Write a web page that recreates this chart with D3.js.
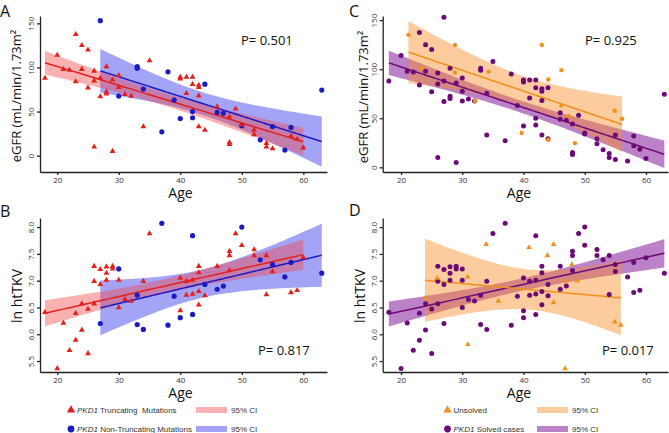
<!DOCTYPE html>
<html>
<head>
<meta charset="utf-8">
<script src="https://cdn.jsdelivr.net/npm/d3@7"></script>
<style>
body { margin: 0; background: #fff; }
svg { display: block; font-family: "Open Sans", sans-serif; }
.axis path, .axis line { stroke: #222; stroke-width: 1.3; }
.axis text { font-size: 8px; fill: #333; font-family: "Open Sans", sans-serif; }
.legend text { font-family: "Liberation Sans", Arial, sans-serif; font-size: 8px; fill: #333; white-space: pre; }
</style>
</head>
<body>
<svg width="669" height="433"></svg>
<script>
// PKD1 truncating mutations (red triangles)
var truncAge = [18,20,21,22,23,23,24,24,25,25,26,26,26,27,27,28,28,28,29,29,30,30,31,32,34,35,
                40,40,41,41,42,42,43,43,43,43,44,46,48,48,48,49,50,52,52,54,54,55,58,59,60];
var truncEgfr = [88,114,98,97,137.5,84,125,98,120,77,96,85,10,88,67,101,72.5,70,86,5,91,77.5,69.5,67.6,33,107.7,
                 89,87,89,70.6,89,81,80,77.5,68,33,29,55.5,44,15,13,53,35,29,24,14,10,8,22,18.5,9];
var truncTkv = [6.41,5.36,6.21,5.70,5.89,6.39,6.08,6.57,5.64,6.47,6.57,6.99,7.27,7.21,6.93,7.26,7.14,7.01,7.27,7.22,
                7.01,6.50,6.65,6.62,6.99,7.88,7.05,6.44,6.99,6.73,7.01,6.75,7.27,7.15,6.80,6.55,6.72,7.27,7.19,7.55,
                7.47,7.88,7.66,7.58,7.47,7.47,6.74,7.17,6.78,6.82,7.43];

// PKD1 non-truncating mutations (blue circles)
var nonTruncAge = [27,30,33,33,34,37,38,39,40,42,42,44,46,47,50,53,55,57,58,63];
var nonTruncEgfr = [153,67.6,101,99,75.5,27,95,63,42,50,43,81,49,48,34,18,33,6.4,32,74.4];
var nonTruncTkv = [6.20,7.22,6.73,6.18,6.09,8.07,6.17,6.71,6.31,7.84,6.37,6.93,6.84,6.90,8.0,7.39,7.30,7.07,7.34,7.14];

// unsolved cases (orange)
var unsolvedAgeC = [21.2,23.4,28.8,28.8,32.1,34.3,39.7,43,44.05,44.05,46.2,46.2,47.4,48.4,54.9,56.1];
var unsolvedEgfr = [135,101.5,124.7,96.5,67.5,97.4,35,124.7,89.5,28,99,63,52,24.6,57.7,49.5];
var unsolvedAgeD = [23.9,25.9,30.9,30.9,33.9,35.9,40.9,43.9,44.9,44.9,46.8,46.9,47.9,48.8,54.9,55.9];
var unsolvedTkv = [6.67,7.05,7.07,5.81,7.68,6.62,7.62,7.47,7.68,6.59,5.36,6.99,7.30,7.0,6.23,6.17];

var ageTicks = [20,30,40,50,60];
var egfrTicks = [0,50,100,150];
var tkvTicks = [5.5,6,6.5,7,7.5,8];

// solved = truncating + non-truncating
var solvedAge = truncAge.concat(nonTruncAge);
var solvedEgfr = truncEgfr.concat(nonTruncEgfr);
var solvedTkv = truncTkv.concat(nonTruncTkv);

var RED = "#e3201c", BLUE = "#1b1bc4", ORANGE = "#f39019", PURPLE = "#6c0a78";
var RED_BAND = "rgba(240,70,70,0.42)", BLUE_BAND = "rgba(90,90,240,0.55)";
var ORANGE_BAND = "rgba(248,140,40,0.45)", PURPLE_BAND = "rgba(140,40,160,0.58)";

var svg = d3.select("svg");

// t quantile (0.975) via Cornish-Fisher expansion
function tq(df) {
  var z = 1.959964;
  var g1 = (Math.pow(z,3) + z) / 4;
  var g2 = (5*Math.pow(z,5) + 16*Math.pow(z,3) + 3*z) / 96;
  var g3 = (3*Math.pow(z,7) + 19*Math.pow(z,5) + 17*Math.pow(z,3) - 15*z) / 384;
  return z + g1/df + g2/(df*df) + g3/(df*df*df);
}

// least squares line + 95% CI of the mean
function fit(xs, ys) {
  var n = xs.length, mx = d3.mean(xs), my = d3.mean(ys);
  var sxx = d3.sum(xs, x => (x - mx) * (x - mx));
  var sxy = d3.sum(xs, (x, i) => (x - mx) * (ys[i] - my));
  var b = sxy / sxx, a = my - b * mx;
  var sse = d3.sum(xs, (x, i) => { var r = ys[i] - a - b * x; return r * r; });
  var s = Math.sqrt(sse / (n - 2)), t = tq(n - 2);
  var lo = d3.min(xs), hi = d3.max(xs);
  return d3.range(0, 81).map(k => {
    var x = lo + (hi - lo) * k / 80, yh = a + b * x;
    var se = s * Math.sqrt(1 / n + (x - mx) * (x - mx) / sxx);
    return {x: x, y: yh, lo: yh - t * se, hi: yh + t * se};
  });
}

function panel(p) {
  var x = d3.scaleLinear().domain(p.xDom).range([p.left, p.right]);
  var y = d3.scaleLinear().domain(p.yDom).range([p.bottom, p.top]);
  var g = svg.append("g");

  svg.append("clipPath").attr("id", "clip" + p.name)
    .append("rect")
      .attr("x", p.left).attr("y", p.top)
      .attr("width", p.right - p.left).attr("height", p.bottom - p.top);
  var plot = g.append("g").attr("clip-path", "url(#clip" + p.name + ")");

  var fits = p.groups.map(s => fit(s.ages, s.vals));

  p.groups.forEach((s, i) => {
    plot.append("path").datum(fits[i])
      .attr("fill", s.band)
      .attr("d", d3.area().x(d => x(d.x)).y0(d => y(d.lo)).y1(d => y(d.hi)));
  });
  p.groups.forEach((s, i) => {
    plot.append("path").datum(fits[i])
      .attr("fill", "none").attr("stroke", s.color).attr("stroke-width", 1.5)
      .attr("d", d3.line().x(d => x(d.x)).y(d => y(d.y)));
  });
  p.groups.forEach(s => {
    var pts = s.ages.map((a, j) => [a, s.vals[j]]);
    if (s.shape === "tri") {
      g.selectAll(null).data(pts).enter().append("path")
        .attr("transform", d => "translate(" + x(d[0]) + "," + y(d[1]) + ")")
        .attr("d", d3.symbol().type(d3.symbolTriangle).size(s.size))
        .attr("fill", s.color);
    } else {
      g.selectAll(null).data(pts).enter().append("circle")
        .attr("cx", d => x(d[0])).attr("cy", d => y(d[1]))
        .attr("r", s.size).attr("fill", s.color);
    }
  });

  g.append("g").attr("class", "axis")
    .attr("transform", "translate(0," + p.bottom + ")")
    .call(d3.axisBottom(x).tickValues(ageTicks).tickSize(3).tickSizeOuter(0).tickPadding(2));

  g.append("g").attr("class", "axis")
    .attr("transform", "translate(" + p.left + ",0)")
    .call(d3.axisLeft(y).tickValues(p.yTicks).tickSize(3).tickSizeOuter(0))
    .selectAll(".tick text")
      .attr("x", null).attr("dy", null)
      .attr("text-anchor", "middle")
      .attr("transform", "translate(-6,0) rotate(-90)");

  g.append("text")
    .attr("x", p.ageX).attr("y", p.bottom + 26)
    .attr("text-anchor", "middle").attr("font-size", 14).attr("fill", "#111")
    .text("Age");

  g.append("text")
    .attr("transform", "translate(" + p.ylabX + "," + p.ylabY + ") rotate(-90)")
    .attr("text-anchor", "middle").attr("font-size", p.ylabSize).attr("fill", "#111")
    .text(p.ylab);

  g.append("text")
    .attr("x", p.letterX).attr("y", p.letterY)
    .attr("font-size", 16).attr("fill", "#111")
    .text(p.name);

  g.append("text")
    .attr("x", p.pX).attr("y", p.pY)
    .attr("font-size", 13).attr("fill", "#111")
    .text(p.pText);
}

var egfrLab = "eGFR (mL/min/1.73m\u00b2";

panel({name: "A", left: 40, right: 327, top: 16, bottom: 172,
       xDom: [17.2, 63.85], yDom: [-18.5, 158.3], yTicks: egfrTicks, ageX: 180.5,
       ylab: egfrLab, ylabX: 21, ylabY: 96, ylabSize: 13,
       letterX: 0, letterY: 17, pX: 241, pY: 45, pText: "P= 0.501",
       groups: [
         {ages: nonTruncAge, vals: nonTruncEgfr, color: BLUE, band: BLUE_BAND, shape: "circle", size: 2.6},
         {ages: truncAge, vals: truncEgfr, color: RED, band: RED_BAND, shape: "tri", size: 15}
       ]});

panel({name: "C", left: 382.7, right: 668, top: 16, bottom: 172,
       xDom: [17.0, 63.6], yDom: [-4.8, 154.2], yTicks: egfrTicks, ageX: 519,
       ylab: egfrLab, ylabX: 368, ylabY: 97, ylabSize: 13,
       letterX: 349, letterY: 17, pX: 585, pY: 45, pText: "P= 0.925",
       groups: [
         {ages: solvedAge, vals: solvedEgfr, color: PURPLE, band: PURPLE_BAND, shape: "circle", size: 2.5},
         {ages: unsolvedAgeC, vals: unsolvedEgfr, color: ORANGE, band: ORANGE_BAND, shape: "circle", size: 2.2}
       ]});

panel({name: "B", left: 40, right: 327, top: 218, bottom: 372,
       xDom: [17.2, 63.85], yDom: [5.295, 8.17], yTicks: tkvTicks, ageX: 180.5,
       ylab: "ln htTKV", ylabX: 21.5, ylabY: 296, ylabSize: 14,
       letterX: 0, letterY: 217, pX: 258, pY: 355, pText: "P= 0.817",
       groups: [
         {ages: nonTruncAge, vals: nonTruncTkv, color: BLUE, band: BLUE_BAND, shape: "circle", size: 2.6},
         {ages: truncAge, vals: truncTkv, color: RED, band: RED_BAND, shape: "tri", size: 15}
       ]});

panel({name: "D", left: 382.7, right: 668, top: 218, bottom: 372,
       xDom: [17.0, 63.6], yDom: [5.295, 8.17], yTicks: tkvTicks, ageX: 519,
       ylab: "ln htTKV", ylabX: 365, ylabY: 296, ylabSize: 14,
       letterX: 349, letterY: 216, pX: 602, pY: 355, pText: "P= 0.017",
       groups: [
         {ages: solvedAge, vals: solvedTkv, color: PURPLE, band: PURPLE_BAND, shape: "circle", size: 2.5},
         {ages: unsolvedAgeD, vals: unsolvedTkv, color: ORANGE, band: ORANGE_BAND, shape: "tri", size: 14}
       ]});

// legends
function legend(lx, sx, rows) {
  var lg = svg.append("g").attr("class", "legend");
  rows.forEach(function (r, i) {
    var cy = 410 + i * 19;
    if (r.shape === "tri") {
      lg.append("path").attr("transform", "translate(" + lx + "," + cy + ")")
        .attr("d", d3.symbol().type(d3.symbolTriangle).size(30)).attr("fill", r.color);
    } else {
      lg.append("circle").attr("cx", lx).attr("cy", cy).attr("r", 3.4).attr("fill", r.color);
    }
    var t = lg.append("text").attr("x", lx + 6).attr("y", cy + 3);
    if (r.italic) t.append("tspan").attr("font-style", "italic").text(r.italic);
    t.append("tspan").text(r.label);
    lg.append("rect").attr("x", sx).attr("y", cy - 3).attr("width", 31).attr("height", 6).attr("fill", r.band);
    lg.append("text").attr("x", sx + 35).attr("y", cy + 3).text("95% CI");
  });
}

legend(71, 196, [
  {shape: "tri", color: RED, band: RED_BAND, italic: "PKD1", label: " Truncating  Mutations"},
  {shape: "circle", color: BLUE, band: BLUE_BAND, italic: "PKD1", label: " Non-Truncating Mutations"}
]);
legend(447.5, 537, [
  {shape: "tri", color: ORANGE, band: ORANGE_BAND, italic: null, label: "Unsolved"},
  {shape: "circle", color: PURPLE, band: PURPLE_BAND, italic: "PKD1", label: " Solved cases"}
]);
</script>
</body>
</html>
